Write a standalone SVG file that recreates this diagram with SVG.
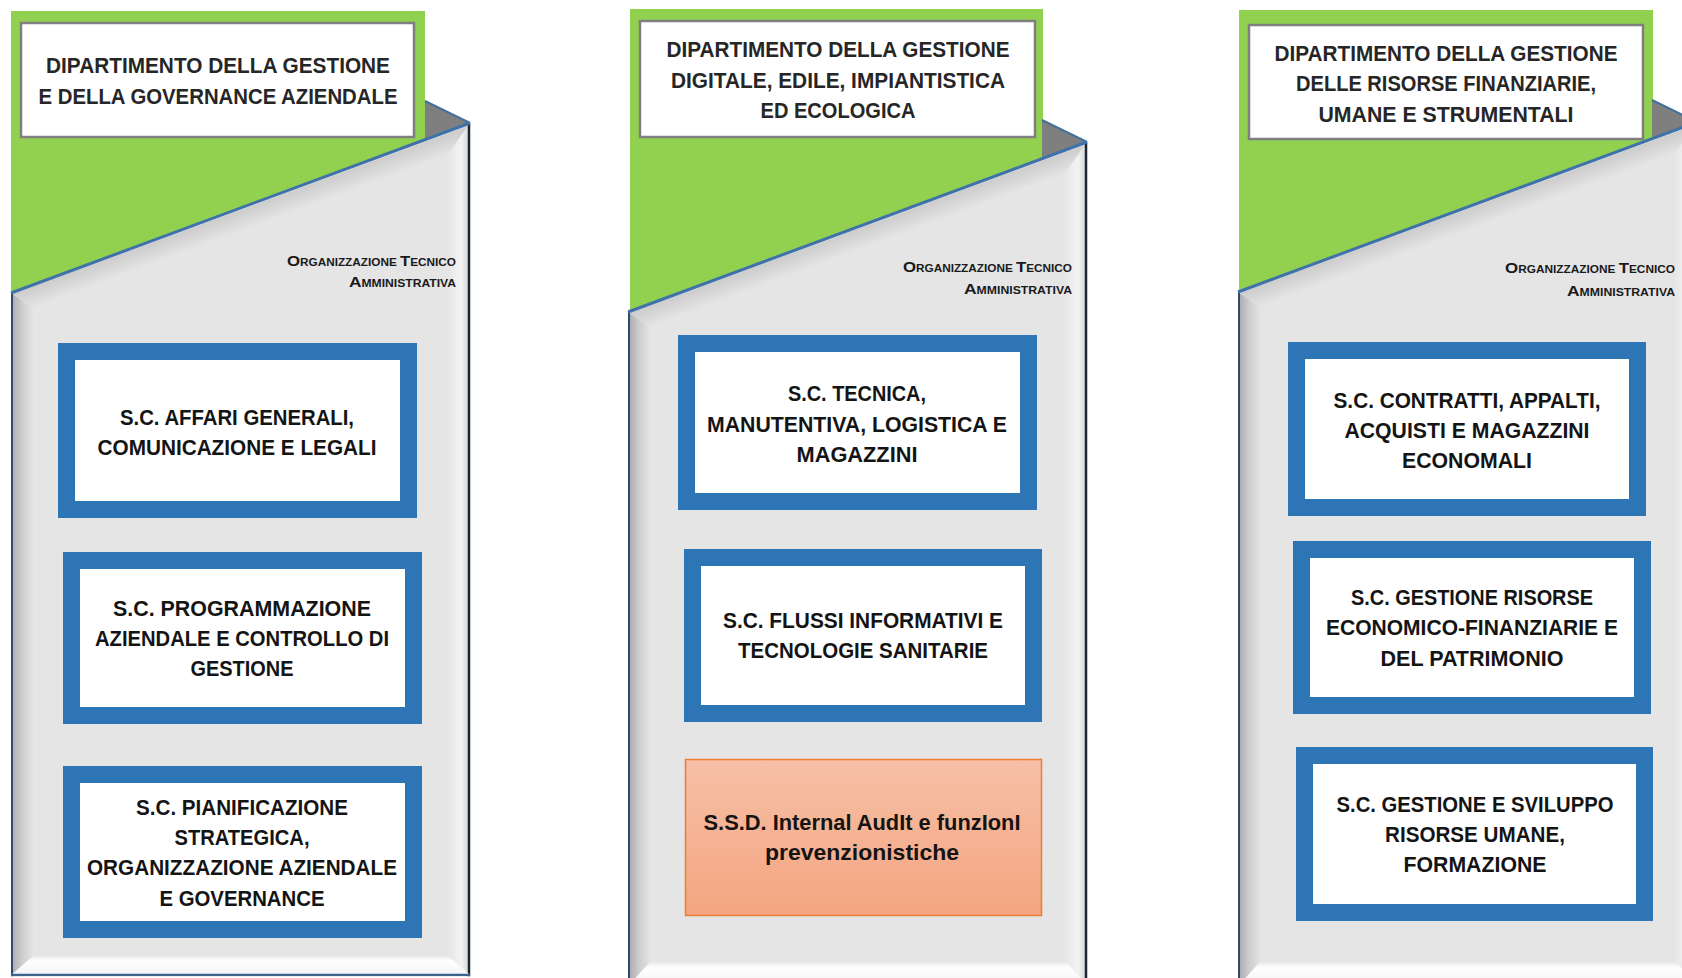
<svg xmlns="http://www.w3.org/2000/svg" xmlns:xlink="http://www.w3.org/1999/xlink" width="1682" height="978" viewBox="0 0 1682 978">
<style>
  .green { fill: #92d050; }
  .title { fill: #ffffff; stroke: #7f7f7f; stroke-width: 2.5; }
  .box { fill: #ffffff; stroke: #2e75b6; stroke-width: 17; }
  .ttl { font-family: "Liberation Sans", Arial, sans-serif; font-weight: bold; font-size: 22px; fill: #262626; text-anchor: middle; }
  .lbl { font-family: "Liberation Sans", Arial, sans-serif; font-weight: bold; font-size: 22px; fill: #141414; text-anchor: middle; }
  .org { font-family: "Liberation Sans", Arial, sans-serif; font-weight: bold; font-size: 10.5px; fill: #1a1a1a; text-anchor: end; }
  .big { font-size: 15px; }
  .bot { fill: url(#gBottom); }
</style>
<defs>
  <linearGradient id="gTop" gradientUnits="userSpaceOnUse" x1="230" y1="84.8" x2="237.6" y2="105.4">
    <stop offset="0" stop-color="#f4f4f4"/>
    <stop offset="0.12" stop-color="#cdcdcd"/>
    <stop offset="0.55" stop-color="#d8d8d8"/>
    <stop offset="1" stop-color="#e5e5e5"/>
  </linearGradient>
  <linearGradient id="gLeft" gradientUnits="userSpaceOnUse" x1="0" y1="0" x2="22" y2="0">
    <stop offset="0" stop-color="#a9a9a9"/>
    <stop offset="0.5" stop-color="#cdcdcd"/>
    <stop offset="1" stop-color="#e3e3e3"/>
  </linearGradient>
  <linearGradient id="gRight" gradientUnits="userSpaceOnUse" x1="437" y1="0" x2="459" y2="0">
    <stop offset="0" stop-color="#e6e6e6"/>
    <stop offset="0.6" stop-color="#f3f3f3"/>
    <stop offset="1" stop-color="#d2d2d2"/>
  </linearGradient>
  <linearGradient id="gBottom" x1="0" y1="0" x2="0" y2="1">
    <stop offset="0" stop-color="#e9e9e9"/>
    <stop offset="0.25" stop-color="#ffffff"/>
    <stop offset="1" stop-color="#f3f3f3"/>
  </linearGradient>
  <linearGradient id="gOrange" x1="0" y1="0" x2="0" y2="1">
    <stop offset="0" stop-color="#f6c0a6"/>
    <stop offset="1" stop-color="#f4a580"/>
  </linearGradient>
  <g id="panel">
    <polygon points="0,170 459,0 459,900 0,900" fill="#e5e5e5"/>
    <polygon points="0,170 459,0 437,31.6 22,185.3" fill="url(#gTop)"/>
    <polygon points="0,170 22,185.3 22,900 0,900" fill="url(#gLeft)"/>
    <polygon points="459,0 459,900 437,900 437,31.6" fill="url(#gRight)"/>
    <polygon points="414,-22 459,0 414,16.7" fill="#7f7f7f"/>
    <line x1="414" y1="-22" x2="459" y2="0" stroke="#41719c" stroke-width="2"/>
    <line x1="1" y1="170" x2="1" y2="900" stroke="#2f4a6b" stroke-width="2"/>
    <line x1="458" y1="0" x2="458" y2="900" stroke="#1c2633" stroke-width="2.5"/>
    <line x1="0" y1="170" x2="459" y2="0" stroke="#3f72ab" stroke-width="3"/>
  </g>
</defs>

<!-- Department 1 -->
<g id="dept-governance">
  <rect class="green" x="11" y="11" width="414" height="290"/>
  <rect class="title" x="21" y="23" width="393" height="114"/>
  <text class="ttl" x="218" y="73" textLength="344" lengthAdjust="spacingAndGlyphs">DIPARTIMENTO DELLA GESTIONE</text>
  <text class="ttl" x="218" y="104" textLength="359" lengthAdjust="spacingAndGlyphs">E DELLA GOVERNANCE AZIENDALE</text>
  <use xlink:href="#panel" transform="translate(11,123)"/>
  <polygon class="bot" points="11,975 33,956 448,956 470,975"/>
  <line x1="11" y1="975" x2="470" y2="975" stroke="#3d628e" stroke-width="2.5"/>
  <rect x="0" y="976.3" width="480" height="4" fill="#ffffff"/>
  <text class="org" x="456" y="266" textLength="169" lengthAdjust="spacingAndGlyphs"><tspan class="big">O</tspan>RGANIZZAZIONE <tspan class="big">T</tspan>ECNICO</text>
  <text class="org" x="456" y="287" textLength="107" lengthAdjust="spacingAndGlyphs"><tspan class="big">A</tspan>MMINISTRATIVA</text>
</g>
<g id="sc-affari-generali">
  <rect class="box" x="66.5" y="351.5" width="342" height="158"/>
  <text class="lbl" x="237" y="425" textLength="234" lengthAdjust="spacingAndGlyphs">S.C. AFFARI GENERALI,</text>
  <text class="lbl" x="237" y="455" textLength="279" lengthAdjust="spacingAndGlyphs">COMUNICAZIONE E LEGALI</text>
</g>
<g id="sc-programmazione">
  <rect class="box" x="71.5" y="560.5" width="342" height="155"/>
  <text class="lbl" x="242" y="616" textLength="258" lengthAdjust="spacingAndGlyphs">S.C. PROGRAMMAZIONE</text>
  <text class="lbl" x="242" y="646" textLength="294" lengthAdjust="spacingAndGlyphs">AZIENDALE E CONTROLLO DI</text>
  <text class="lbl" x="242" y="676" textLength="103" lengthAdjust="spacingAndGlyphs">GESTIONE</text>
</g>
<g id="sc-pianificazione">
  <rect class="box" x="71.5" y="774.5" width="342" height="155"/>
  <text class="lbl" x="242" y="815" textLength="212" lengthAdjust="spacingAndGlyphs">S.C. PIANIFICAZIONE</text>
  <text class="lbl" x="242" y="845" textLength="135" lengthAdjust="spacingAndGlyphs">STRATEGICA,</text>
  <text class="lbl" x="242" y="875" textLength="310" lengthAdjust="spacingAndGlyphs">ORGANIZZAZIONE AZIENDALE</text>
  <text class="lbl" x="242" y="906" textLength="165" lengthAdjust="spacingAndGlyphs">E GOVERNANCE</text>
</g>

<!-- Department 2 -->
<g id="dept-digitale">
  <rect class="green" x="630" y="9" width="413" height="310"/>
  <rect class="title" x="640" y="21" width="395" height="116"/>
  <text class="ttl" x="838" y="57" textLength="343" lengthAdjust="spacingAndGlyphs">DIPARTIMENTO DELLA GESTIONE</text>
  <text class="ttl" x="838" y="88" textLength="334" lengthAdjust="spacingAndGlyphs">DIGITALE, EDILE, IMPIANTISTICA</text>
  <text class="ttl" x="838" y="118" textLength="155" lengthAdjust="spacingAndGlyphs">ED ECOLOGICA</text>
  <use xlink:href="#panel" transform="translate(628,142)"/>
  <polygon class="bot" points="628,986 650,962 1066,962 1088,986"/>
  <text class="org" x="1072" y="272" textLength="169" lengthAdjust="spacingAndGlyphs"><tspan class="big">O</tspan>RGANIZZAZIONE <tspan class="big">T</tspan>ECNICO</text>
  <text class="org" x="1072" y="294" textLength="108" lengthAdjust="spacingAndGlyphs"><tspan class="big">A</tspan>MMINISTRATIVA</text>
</g>
<g id="sc-tecnica">
  <rect class="box" x="686.5" y="343.5" width="342" height="158"/>
  <text class="lbl" x="857" y="401" textLength="138" lengthAdjust="spacingAndGlyphs">S.C. TECNICA,</text>
  <text class="lbl" x="857" y="432" textLength="300" lengthAdjust="spacingAndGlyphs">MANUTENTIVA, LOGISTICA E</text>
  <text class="lbl" x="857" y="462" textLength="121" lengthAdjust="spacingAndGlyphs">MAGAZZINI</text>
</g>
<g id="sc-flussi-informativi">
  <rect class="box" x="692.5" y="557.5" width="341" height="156"/>
  <text class="lbl" x="863" y="628" textLength="280" lengthAdjust="spacingAndGlyphs">S.C. FLUSSI INFORMATIVI E</text>
  <text class="lbl" x="863" y="658" textLength="250" lengthAdjust="spacingAndGlyphs">TECNOLOGIE SANITARIE</text>
</g>
<g id="ssd-internal-audit">
  <rect x="685.5" y="759.5" width="356" height="156" fill="url(#gOrange)" stroke="#ed7d31" stroke-width="1.5"/>
  <text class="lbl" x="862" y="830" textLength="317" lengthAdjust="spacingAndGlyphs">S.S.D. Internal AudIt e funzIonI</text>
  <text class="lbl" x="862" y="860" textLength="194" lengthAdjust="spacingAndGlyphs">prevenzionistiche</text>
</g>

<!-- Department 3 -->
<g id="dept-risorse">
  <rect class="green" x="1239" y="10" width="414" height="290"/>
  <rect class="title" x="1249" y="25" width="394" height="114"/>
  <text class="ttl" x="1446" y="61" textLength="343" lengthAdjust="spacingAndGlyphs">DIPARTIMENTO DELLA GESTIONE</text>
  <text class="ttl" x="1446" y="91" textLength="300" lengthAdjust="spacingAndGlyphs">DELLE RISORSE FINANZIARIE,</text>
  <text class="ttl" x="1446" y="122" textLength="255" lengthAdjust="spacingAndGlyphs">UMANE E STRUMENTALI</text>
  <use xlink:href="#panel" transform="translate(1238,122)"/>
  <polygon class="bot" points="1238,986 1260,962 1676,962 1698,986"/>
  <text class="org" x="1675" y="273" textLength="170" lengthAdjust="spacingAndGlyphs"><tspan class="big">O</tspan>RGANIZZAZIONE <tspan class="big">T</tspan>ECNICO</text>
  <text class="org" x="1675" y="296" textLength="108" lengthAdjust="spacingAndGlyphs"><tspan class="big">A</tspan>MMINISTRATIVA</text>
</g>
<g id="sc-contratti">
  <rect class="box" x="1296.5" y="350.5" width="341" height="157"/>
  <text class="lbl" x="1467" y="408" textLength="267" lengthAdjust="spacingAndGlyphs">S.C. CONTRATTI, APPALTI,</text>
  <text class="lbl" x="1467" y="438" textLength="245" lengthAdjust="spacingAndGlyphs">ACQUISTI E MAGAZZINI</text>
  <text class="lbl" x="1467" y="468" textLength="130" lengthAdjust="spacingAndGlyphs">ECONOMALI</text>
</g>
<g id="sc-risorse-economico-finanziarie">
  <rect class="box" x="1301.5" y="549.5" width="341" height="156"/>
  <text class="lbl" x="1472" y="605" textLength="242" lengthAdjust="spacingAndGlyphs">S.C. GESTIONE RISORSE</text>
  <text class="lbl" x="1472" y="635" textLength="292" lengthAdjust="spacingAndGlyphs">ECONOMICO-FINANZIARIE E</text>
  <text class="lbl" x="1472" y="666" textLength="183" lengthAdjust="spacingAndGlyphs">DEL PATRIMONIO</text>
</g>
<g id="sc-risorse-umane">
  <rect class="box" x="1304.5" y="755.5" width="340" height="157"/>
  <text class="lbl" x="1475" y="812" textLength="277" lengthAdjust="spacingAndGlyphs">S.C. GESTIONE E SVILUPPO</text>
  <text class="lbl" x="1475" y="842" textLength="180" lengthAdjust="spacingAndGlyphs">RISORSE UMANE,</text>
  <text class="lbl" x="1475" y="872" textLength="143" lengthAdjust="spacingAndGlyphs">FORMAZIONE</text>
</g>

<g id="connectors"/>
</svg>
